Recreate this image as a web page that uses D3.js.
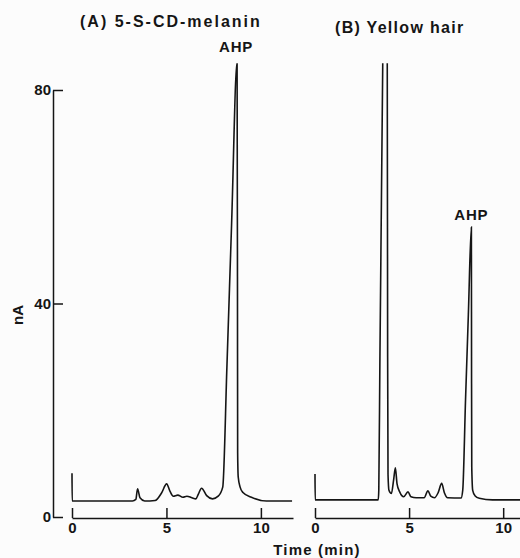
<!DOCTYPE html>
<html>
<head>
<meta charset="utf-8">
<script src="https://cdn.jsdelivr.net/npm/d3@7"></script>
<style>
  body { margin: 0; background: #fcfcfc; }
  text { font-family: "Liberation Sans", Arial, sans-serif; font-weight: bold; fill: #151515; }
</style>
</head>
<body>
<script>
//values (time in min, current in nA)
var timeA = [0, 0.01, 3.2, 3.38, 3.47, 3.6, 3.85, 4.4, 4.74, 5.01, 5.19, 5.36, 5.6, 5.87, 6.08, 6.35, 6.56,
             6.69, 6.86, 7.13, 7.44, 7.74, 7.98, 8.2, 8.45, 8.74, 8.76, 8.77, 8.8, 8.9, 9.05, 9.5, 10.3, 11.65];
var signalA = [8.2, 3.0, 3.0, 3.3, 5.3, 3.6, 3.0, 3.1, 4.5, 6.2, 4.8, 3.9, 4.1, 3.7, 3.9, 3.6, 3.4,
               4.3, 5.4, 4.0, 3.4, 3.9, 5.6, 28, 55, 85.2, 45, 12, 7.5, 5.6, 4.6, 3.7, 3.0, 3.0];

var timeB = [0, 0.01, 3.36, 3.39, 3.45, 3.6, 3.72, 3.84, 3.86, 3.88, 3.93, 4.06, 4.18, 4.27, 4.36, 4.5,
             4.71, 4.94, 5.1, 5.38, 5.8, 6.0, 6.15, 6.35, 6.55, 6.73, 6.88, 7.05, 7.76, 7.85, 8.0, 8.15,
             8.31, 8.32, 8.33, 8.38, 8.5, 8.73, 9.43, 11];
var signalB = [8.05, 3.2, 3.2, 5, 30, 85, 135, 85, 30, 8, 5.0, 4.4, 7.0, 9.2, 6.2, 4.7,
               3.8, 4.7, 3.8, 3.6, 3.6, 4.9, 3.9, 3.6, 4.6, 6.3, 4.5, 3.6, 3.55, 5, 22, 38,
               54.3, 25, 9.4, 5, 4.0, 3.5, 3.2, 3.2];

var yTicks = [0, 40, 80];
var xTicks = [0, 5, 10];
var penTop = 85; //the recorder pen ran off the paper above this

var ahpA = {t: 8.74, v: 85.2};
var ahpB = {t: 8.31, v: 54.3};

var svg = d3.select('body')
            .append('svg')
            .attr('width', 520)
            .attr('height', 558);

//scales
var yScale = d3.scaleLinear().domain([0, 80]).range([517, 90]);
var xA = d3.scaleLinear().domain([0, 11.7]).range([72, 293]);
var xB = d3.scaleLinear().domain([0, 11]).range([315, 522]);

function styleAxis(g, size) {
  g.selectAll('path, line').attr('stroke', '#151515').attr('stroke-width', 1.5);
  g.selectAll('text').style('font-size', size + 'px')
   .style('font-family', '"Liberation Sans", Arial, sans-serif').attr('fill', '#151515');
}

//y axis
svg.append('g')
   .attr('transform', 'translate(53,0)')
   .call(d3.axisLeft(yScale).tickValues(yTicks).tickSize(-10).tickSizeOuter(0).tickPadding(2))
   .call(g => styleAxis(g, 15));

svg.append('text')
   .text('nA')
   .attr('transform', 'translate(23,315) rotate(-90)')
   .style('text-anchor', 'middle')
   .style('font-size', '15px');

//x axes
[xA, xB].forEach(function (xs) {
  svg.append('g')
     .attr('transform', 'translate(0,518)')
     .call(d3.axisBottom(xs).tickValues(xTicks).tickSize(-10).tickSizeOuter(0).tickPadding(4))
     .call(g => styleAxis(g, 15));
});

svg.append('text')
   .text('Time (min)')
   .attr('x', 317)
   .attr('y', 555)
   .style('text-anchor', 'middle')
   .style('letter-spacing', '1.2px')
   .style('font-size', '15px');

//traces
var clip = svg.append('clipPath').attr('id', 'pen');
clip.append('rect')
    .attr('x', 0)
    .attr('y', yScale(penTop))
    .attr('width', 520)
    .attr('height', 558 - yScale(penTop));

function drawTrace(times, vals, xs) {
  var pts = times.map((t, i) => [t, vals[i]]);
  var line = d3.line()
               .x(d => xs(d[0]))
               .y(d => yScale(d[1]))
               .curve(d3.curveMonotoneX);
  svg.append('path')
     .datum(pts)
     .attr('d', line)
     .attr('clip-path', 'url(#pen)')
     .attr('fill', 'none')
     .attr('stroke', '#151515')
     .attr('stroke-width', 1.6);
}
drawTrace(timeA, signalA, xA);
drawTrace(timeB, signalB, xB);

//titles and peak labels
svg.append('text')
   .text('(A) 5-S-CD-melanin')
   .attr('x', 80)
   .attr('y', 27)
   .style('letter-spacing', '2px')
   .style('font-size', '16px');

svg.append('text')
   .text('(B) Yellow hair')
   .attr('x', 335)
   .attr('y', 33)
   .style('letter-spacing', '1.3px')
   .style('font-size', '16px');

svg.append('text')
   .text('AHP')
   .attr('x', xA(ahpA.t) - 1)
   .attr('y', yScale(ahpA.v) - 10)
   .style('text-anchor', 'middle')
   .style('letter-spacing', '0.8px')
   .style('font-size', '15px');

svg.append('text')
   .text('AHP')
   .attr('x', xB(ahpB.t))
   .attr('y', yScale(ahpB.v) - 7)
   .style('text-anchor', 'middle')
   .style('letter-spacing', '0.8px')
   .style('font-size', '15px');
</script>
</body>
</html>
